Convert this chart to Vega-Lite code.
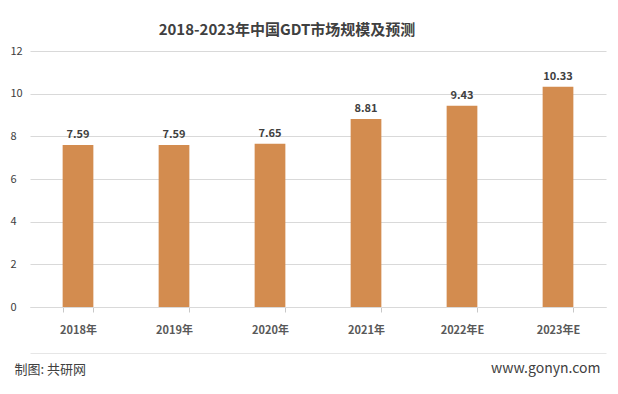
{
  "$schema": "https://vega.github.io/schema/vega-lite/v6.json",
  "autosize": "none",
  "width": 576,
  "height": 256,
  "padding": {"left": 30, "top": 51, "right": 12, "bottom": 87},
  "background": "white",
  "config": {
    "font": "Noto Sans CJK SC",
    "view": {"stroke": null}
  },
  "title": {
    "text": "2018-2023年中国GDT市场规模及预测",
    "fontSize": 15,
    "fontWeight": "bold",
    "color": "#404040",
    "anchor": "middle",
    "dx": -31,
    "offset": 7
  },
  "data": {
    "values": [
      {"year": "2018年", "value": 7.59},
      {"year": "2019年", "value": 7.59},
      {"year": "2020年", "value": 7.65},
      {"year": "2021年", "value": 8.81},
      {"year": "2022年E", "value": 9.43},
      {"year": "2023年E", "value": 10.33}
    ]
  },
  "resolve": {"scale": {"x": "independent"}},
  "layer": [
    {
      "mark": {"type": "bar", "color": "#D38C4F"},
      "encoding": {
        "x": {
          "field": "year", "type": "nominal", "sort": null,
          "scale": {"paddingInner": 0.68, "paddingOuter": 0.34},
          "axis": {
            "orient": "bottom",
            "labelAngle": 0,
            "labelFontSize": 11,
            "labelFontWeight": 600,
            "labelColor": "#595959",
            "labelPadding": 12,
            "domainColor": "#d9d9d9",
            "tickColor": "#c8c8c8",
            "tickSize": 5,
            "tickBand": "extent",
            "title": "制图: 共研网",
            "titleFontSize": 13,
            "titleFontWeight": "normal",
            "titleColor": "#404040",
            "titleAnchor": "start",
            "titleAlign": "left",
            "titleBaseline": "middle",
            "titleX": -16,
            "titleY": 62
          }
        },
        "y": {
          "field": "value", "type": "quantitative",
          "scale": {"domain": [0, 12]},
          "axis": {
            "values": [0, 2, 4, 6, 8, 10, 12],
            "title": null,
            "domain": false,
            "ticks": false,
            "labelAlign": "left",
            "labelPadding": 20,
            "labelFontSize": 11,
            "labelColor": "#404040",
            "gridColor": "#d9d9d9"
          }
        }
      }
    },
    {
      "mark": {"type": "text", "dy": -10, "fontSize": 11, "fontWeight": "bold", "color": "#404040"},
      "encoding": {
        "x": {
          "field": "year", "type": "nominal", "sort": null,
          "scale": {"paddingInner": 0.68, "paddingOuter": 0.34},
          "axis": {
            "orient": "bottom",
            "offset": 46,
            "labels": false,
            "ticks": false,
            "domainColor": "#e6e6e6",
            "title": "www.gonyn.com",
            "titleFontSize": 14,
            "titleFontWeight": "normal",
            "titleColor": "#404040",
            "titleAnchor": "end",
            "titleAlign": "right",
            "titleBaseline": "middle",
            "titleX": 570,
            "titleY": 15
          }
        },
        "y": {"field": "value", "type": "quantitative"},
        "text": {"field": "value", "type": "quantitative", "format": ".2f"}
      }
    }
  ]
}
